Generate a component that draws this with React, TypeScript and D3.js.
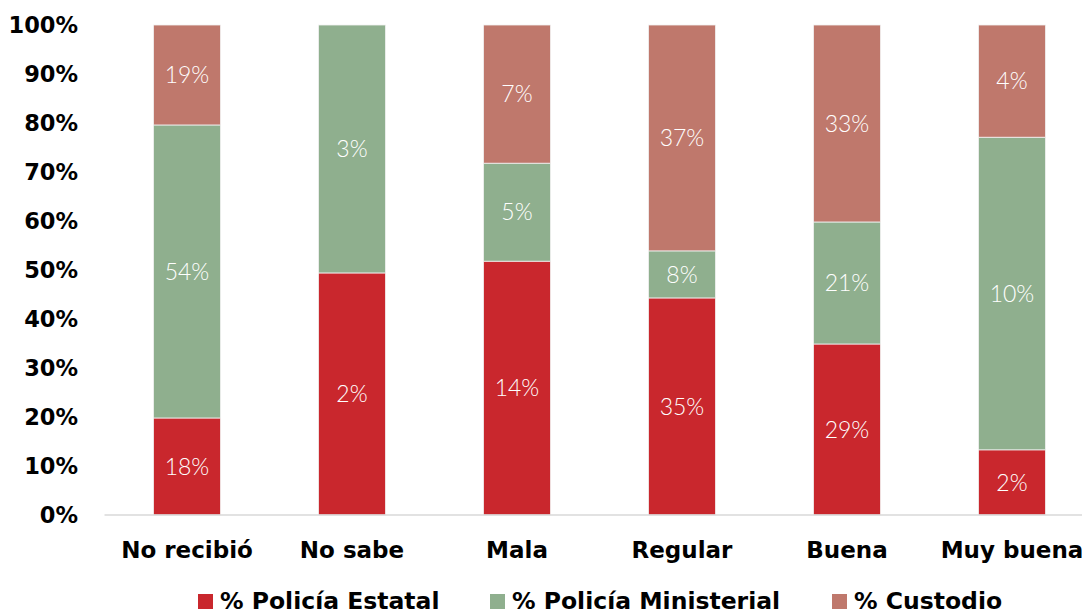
import React from "react";
import * as d3 from "d3";

const categories = ["No recibió", "No sabe", "Mala", "Regular", "Buena", "Muy buena"];
const seriesNames = ["% Policía Estatal", "% Policía Ministerial", "% Custodio"];
// segment shares of each bar (percent of bar height)
const estatalShare = [19.8, 49.4, 51.8, 44.3, 34.9, 13.3];
const ministerialShare = [59.8, 50.6, 20.0, 9.6, 24.9, 63.8];
const custodioShare = [20.4, 0, 28.2, 46.1, 40.2, 22.9];
// labels shown on the segments
const estatalLabels = ["18%", "2%", "14%", "35%", "29%", "2%"];
const ministerialLabels = ["54%", "3%", "5%", "8%", "21%", "10%"];
const custodioLabels = ["19%", "", "7%", "37%", "33%", "4%"];
const yTicks = [0, 10, 20, 30, 40, 50, 60, 70, 80, 90, 100];

const colors = ["#C9272D", "#8FAF8E", "#BF786C"];
const W = 1082, H = 615;
const FONT = "'DejaVu Sans', 'Open Sans', sans-serif";

export default function App() {
  const x = d3.scaleBand<string>().domain(categories).range([104.5, 1094.5]).paddingInner(0.594).paddingOuter(0.297);
  const y = d3.scaleLinear().domain([0, 100]).range([515, 25]);
  const shares = [estatalShare, ministerialShare, custodioShare];
  const labels = [estatalLabels, ministerialLabels, custodioLabels];
  const rows = categories.map((c, i) => ({ c, s0: shares[0][i], s1: shares[1][i], s2: shares[2][i] }));
  const stack = d3.stack<any>().keys(["s0", "s1", "s2"])(rows);
  const legendX = [198, 490, 832];
  return (
    <svg width={W} height={H} style={{ position: "absolute", left: 0, top: 0, background: "#fff" }}>
      {stack.map((layer, si) => (
        <g key={si}>
          {layer.map((d, ci) => {
            const h = y(d[0]) - y(d[1]);
            if (h <= 0) return null;
            const bx = x(categories[ci])!;
            return (
              <g key={ci}>
                <rect x={bx} y={y(d[1])} width={x.bandwidth()} height={h} fill={colors[si]} stroke="#f2f2f2" strokeWidth={0.8} />
                <text x={bx + x.bandwidth() / 2} y={(y(d[0]) + y(d[1])) / 2} dy="0.36em" textAnchor="middle"
                  fill="#fff" fontFamily="Lato, 'Open Sans', sans-serif" fontWeight={300} fontSize={23}>{labels[si][ci]}</text>
              </g>
            );
          })}
        </g>
      ))}
      <line x1={104.5} x2={W} y1={515} y2={515} stroke="#d9d9d9" strokeWidth={1.5} />
      {yTicks.map(t => (
        <text key={t} x={78} y={y(t)} dy="0.36em" textAnchor="end" fontFamily={FONT} fontWeight="bold" fontSize={22.5} fill="#000">{t}%</text>
      ))}
      {categories.map(c => (
        <text key={c} x={x(c)! + x.bandwidth() / 2} y={550} dy="0.36em" textAnchor="middle" fontFamily={FONT} fontWeight="bold" fontSize={23} fill="#000">{c}</text>
      ))}
      {seriesNames.map((n, i) => (
        <g key={n}>
          <rect x={legendX[i]} y={594} width={15} height={15} fill={colors[i]} />
          <text x={legendX[i] + 22} y={601} dy="0.36em" fontFamily={FONT} fontWeight="bold" fontSize={23.5} fill="#000">{n}</text>
        </g>
      ))}
    </svg>
  );
}
